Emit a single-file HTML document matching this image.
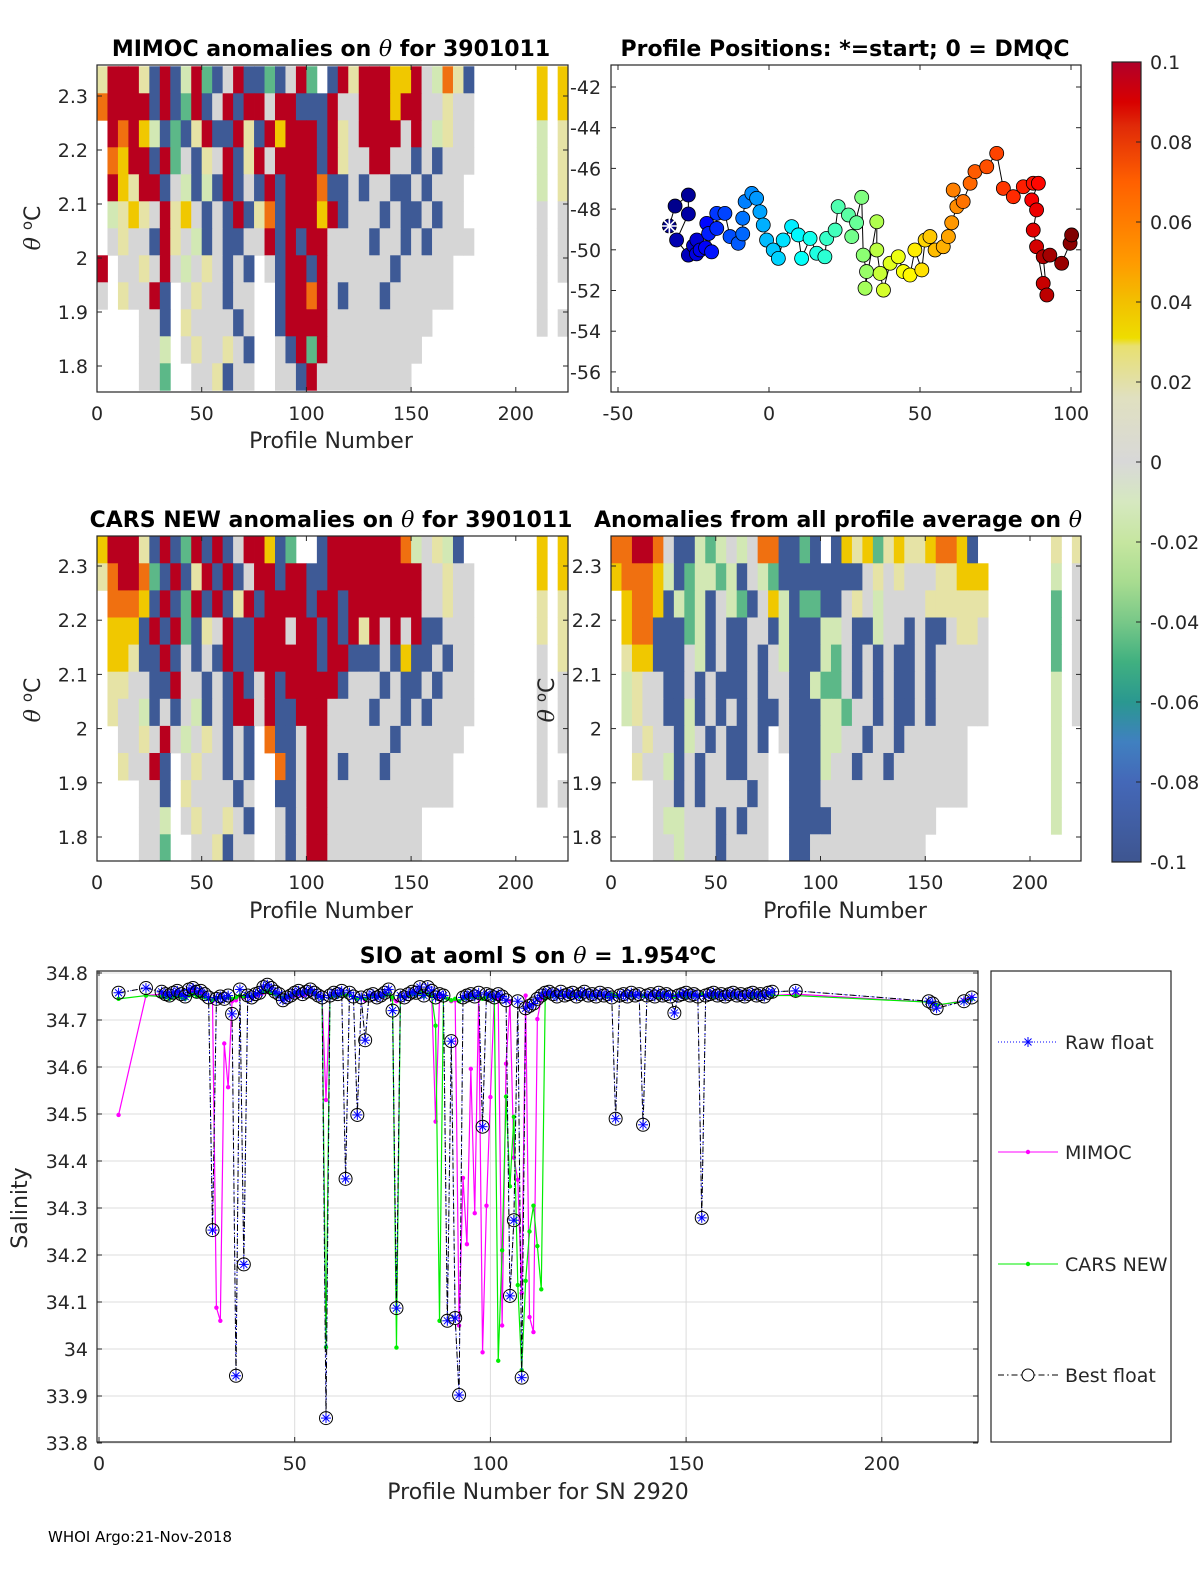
<!DOCTYPE html>
<html><head><meta charset="utf-8"><title>Float 3901011 QC</title>
<style>
html,body{margin:0;padding:0;background:#fff;}
svg{display:block;font-family:"DejaVu Sans","Liberation Sans",sans-serif;}
.tk{font-size:19px;fill:#262626;}
.ttl{font-size:22px;font-weight:bold;fill:#000;}
.lab{font-size:22px;fill:#262626;}
</style></head>
<body>
<svg id="fig" xmlns="http://www.w3.org/2000/svg" width="1200" height="1575" viewBox="0 0 1200 1575">
<rect x="0" y="0" width="1200" height="1575" fill="#fff"/>
<defs>
<linearGradient id="cbg" x1="0" y1="0" x2="0" y2="1">
<stop offset="0" stop-color="#b0002a"/><stop offset="0.05" stop-color="#d80000"/><stop offset="0.08" stop-color="#e02a08"/>
<stop offset="0.15" stop-color="#ff6000"/><stop offset="0.25" stop-color="#ff9a00"/><stop offset="0.3" stop-color="#f2c000"/>
<stop offset="0.345" stop-color="#eedd00"/><stop offset="0.355" stop-color="#e8e070"/><stop offset="0.42" stop-color="#e0e0c0"/>
<stop offset="0.5" stop-color="#d8d8d8"/><stop offset="0.55" stop-color="#d6e8c0"/><stop offset="0.6" stop-color="#c6e6a0"/>
<stop offset="0.65" stop-color="#a8dc90"/><stop offset="0.7" stop-color="#78c888"/><stop offset="0.75" stop-color="#40b080"/>
<stop offset="0.8" stop-color="#2a9890"/><stop offset="0.85" stop-color="#4080c0"/><stop offset="0.9" stop-color="#4468b8"/>
<stop offset="1" stop-color="#3e5590"/>
</linearGradient>
<clipPath id="c1"><rect x="97" y="65" width="471" height="327"/></clipPath>
<clipPath id="c3"><rect x="97" y="536" width="471" height="325"/></clipPath>
<clipPath id="c4"><rect x="611" y="536" width="470" height="325"/></clipPath>
<clipPath id="cb"><rect x="97" y="971" width="881" height="471"/></clipPath>
</defs>
</svg>
<script>
// ---------- heatmap data (each char = 5-profile bin, each row = 0.05 degC from top) ----------
const mimocRows=[
"ERRREBRBLRMBGRBBMBGRM.BRERRRYYRGLOEB......Y.Y",
"ORRRRBRBMRBGRBRRGRRBBBRGGRRRYRRGGEGG......Y.Y",
".RORYLBMBERBBREBRYRRRBREGRRRRGRGLEGG......L.E",
".OYRRBRMGBEGRBERGRRRRBREGGRRGGBGBGGG......L.E",
".RYERRBGLBLBRBGBRBRRROBBGBGGBBGBGGG.......L.E",
".LEYEGREYGBGBRBEOBRRRYRBGGGBGBBGBGG.......G.G",
".GEGGBREGLBGBBGGRBRBRRGGGGBGGBGBGGGG......G.G",
"R.GGEGRGLGEGBGB.GBRRBRGGGGGGBGGGGG........G.G",
"G.EGGRB.GEGGBGG..BRRORGBGGGBGGGGGG........G..",
"....GGB.EGGGGBG..BRRRRGGGGGGGGGG..........G.G",
"....GGL.GEGGEGB..GBRMRGGGGGGGGG..............",
"....GGM..GGEBGG..GGBRGGGGGGGGG..............."];
const carsRows=[
"YRRREBRBMRBRBGRRYBM..BRRRRRRROLGELB.......Y.Y",
"EORROMBRBERBRBGRRBRRBBRRRRRRRRRGGEGG......Y.Y",
".OOOYBRBMRBRBERBRRRRBRRBRRRRRRRGGEGG......E.E",
".YYYBRBRMBEGRBBRRRGRRBRBRERGRGRBBGGG......E.E",
".YYEBBRBGBGBRBBRRRRRRBRRBBBGBYBBGBGG......G.E",
".EEGGBBRGGBGBRBGRBRRRRRBGGGBGBBGBGGG......G.G",
".EGGLBGBGLBGBRRGRBBRRRGGGGBGGBGBGGGG......G.G",
"..GGEGRGLGEGBGB.OBBGRRGGGGGGBGGGGGG.......G.G",
"..EGGRB.GEGGBGB..OBGRRGBGGGBGGGGGG........G..",
"....GGB.EGGGGBG..BBGRRGGGGGGGGGGGG........G.G",
"....GGL.GEGGEGB..GBGRRGGGGGGGGG..............",
"....GGM..GGEBGG..GBGRRGGGGGGGGG.............."];
const avgRows=[
"OORROGBBLMLGLGOOBBMB.BYEYMEYEEYOOYB.......E.E",
"YOOOYLBMLLMLBGLMBBBBBBBBGEGEGGGEEYYY......L.G",
".YOOYBLMLBGLMBGYLBMMBBGEGLGGGGEEEEEE......M.G",
".YOOBBBMLBGBBGGBLBBBLLGBBLGGBGBBGEEG......M.G",
".EYYBBBGLBGBBGBGLBBBLMGBGBGBBGBGGGGG......M.G",
".LEGGBBGBGBBBGBGGBBLMMGBGBGBBGBGGGGG......L.G",
".LEGGBBLBGBGBGBBGBBBLLMGGBGBBGBGGGGG......L.G",
"..GEGGBLGBGBBGB.GBBBLLGGBGGBGGGGGG........L..",
"..EGGLBGBGGBBGG..BBBLGGBGGBGGGGGGG........L..",
"....GGBGBGGGGBG..BBBGGGGGGGGGGGGGG........L..",
"....GLLGGGBGBGG..BBBBGGGGGGGGGG...........L..",
"....GGLGGGBGGGG..BBGGGGGGGGGGG..............."];
const cellColors={R:"#b8001e",O:"#f07010",Y:"#f0c800",E:"#e6e3a6",G:"#d6d6d6",L:"#d2e8b4",M:"#5cb888",B:"#3e5a96"};
const thetaTicks=[2.3,2.2,2.1,2.0,1.9,1.8];
const thetaTickLabels=["2.3","2.2","2.1","2","1.9","1.8"];
const profTicks=[0,50,100,150,200];

// ---------- positions data ----------
const lon=[-33.0,-31.1,-26.7,-26.7,-30.6,-26.7,-25.0,-23.9,-24.0,-22.8,-21.0,-20.6,-19.0,-20.0,-17.3,-17.3,-14.6,-12.9,-10.2,-8.7,-8.7,-7.9,-5.7,-4.1,-3.0,-1.9,-0.8,1.4,3.1,4.7,7.5,9.7,10.8,13.6,15.8,18.5,19.1,21.9,22.9,26.3,29.0,27.4,30.7,31.2,32.3,31.8,35.7,35.7,36.8,37.9,40.1,42.8,44.5,46.7,48.3,50.6,51.7,53.3,55.0,57.7,59.4,60.5,62.2,61.0,64.3,66.6,68.2,72.1,75.4,77.6,80.9,84.2,87.5,89.2,87.0,88.6,87.5,88.6,90.8,92.0,90.8,93.0,96.9,99.7,100.2];
const lat=[-48.83,-47.85,-47.31,-48.24,-49.52,-50.26,-49.8,-49.52,-50.2,-50.01,-49.9,-48.70,-50.1,-49.2,-48.95,-48.21,-48.21,-49.35,-49.68,-49.22,-48.45,-47.63,-47.23,-47.47,-48.13,-48.78,-49.52,-50.01,-50.42,-49.52,-48.86,-49.27,-50.42,-49.44,-50.17,-50.34,-49.44,-49.03,-47.88,-48.29,-48.67,-49.35,-47.42,-50.26,-51.07,-51.89,-48.62,-50.01,-51.16,-51.98,-50.66,-50.34,-51.07,-51.24,-50.01,-50.99,-49.52,-49.35,-50.01,-49.85,-49.35,-48.67,-47.88,-47.06,-47.63,-46.73,-46.16,-45.92,-45.26,-46.98,-47.39,-46.90,-46.73,-46.73,-47.55,-48.04,-49.03,-49.85,-51.65,-52.22,-50.34,-50.26,-50.66,-49.68,-49.27];
const lonTicks=[-50,0,50,100];
const latTicks=[-42,-44,-46,-48,-50,-52,-54,-56];
const cbTicks=[0.1,0.08,0.06,0.04,0.02,0,-0.02,-0.04,-0.06,-0.08,-0.1];
const cbTickLabels=["0.1","0.08","0.06","0.04","0.02","0","-0.02","-0.04","-0.06","-0.08","-0.1"];

// ---------- salinity data ----------
const profStart=16, profEnd=172;
const profHead=[5,12], profTail=[178,212,213,214,221,223];
const bestS=[34.758,34.768,
34.760,34.755,34.752,34.758,34.762,34.755,34.750,34.765,34.768,34.760,
34.762,34.755,34.748,34.253,34.745,34.750,34.745,34.752,34.713,33.943,
34.765,34.180,34.752,34.748,34.755,34.758,34.770,34.775,34.768,34.760,
34.755,34.742,34.748,34.752,34.758,34.762,34.755,34.760,34.765,34.758,
34.752,34.748,33.853,34.752,34.758,34.755,34.762,34.362,34.758,34.750,
34.498,34.748,34.657,34.752,34.755,34.748,34.752,34.758,34.765,34.720,
34.087,34.752,34.748,34.755,34.760,34.758,34.770,34.752,34.770,34.762,
34.748,34.755,34.752,34.060,34.655,34.066,33.902,34.748,34.752,34.755,
34.750,34.758,34.473,34.755,34.752,34.748,34.755,34.750,34.742,34.113,
34.274,34.740,33.939,34.725,34.730,34.735,34.745,34.752,34.758,34.760,
34.755,34.750,34.760,34.752,34.755,34.758,34.750,34.755,34.760,34.752,
34.755,34.750,34.758,34.752,34.755,34.748,34.490,34.752,34.755,34.750,
34.758,34.752,34.755,34.477,34.752,34.755,34.750,34.758,34.752,34.755,
34.750,34.715,34.752,34.755,34.758,34.752,34.755,34.750,34.279,34.752,
34.755,34.758,34.752,34.755,34.750,34.755,34.758,34.752,34.755,34.750,
34.755,34.758,34.752,34.755,34.750,34.758,34.760,
34.762,34.740,34.735,34.725,34.740,34.748];
const mimocS=[34.498,34.752,
34.755,34.752,34.750,34.755,34.758,34.752,34.750,34.758,34.760,34.755,
34.755,34.750,34.748,34.740,34.088,34.060,34.650,34.557,34.740,34.742,
34.750,34.748,34.750,34.748,34.752,34.755,34.758,34.760,34.758,34.755,
34.752,34.745,34.748,34.750,34.752,34.755,34.752,34.755,34.758,34.755,
34.750,34.745,34.530,34.748,34.752,34.750,34.755,34.752,34.755,34.748,
34.745,34.748,34.742,34.750,34.752,34.748,34.750,34.752,34.755,34.745,
34.740,34.750,34.748,34.752,34.755,34.752,34.758,34.750,34.755,34.752,
34.484,34.750,34.748,34.745,34.740,34.742,34.050,34.364,34.223,34.596,
34.289,34.750,33.993,34.305,34.536,34.748,34.745,34.050,34.607,34.740,
34.407,34.360,34.119,34.752,34.068,34.036,34.702,34.745,34.752,34.755,
34.752,34.750,34.755,34.752,34.750,34.755,34.752,34.750,34.755,34.752,
34.752,34.750,34.755,34.752,34.750,34.755,34.752,34.750,34.755,34.752,
34.752,34.750,34.755,34.752,34.750,34.755,34.752,34.750,34.755,34.752,
34.752,34.750,34.755,34.752,34.750,34.755,34.752,34.750,34.755,34.752,
34.752,34.750,34.755,34.752,34.750,34.755,34.752,34.750,34.755,34.752,
34.752,34.750,34.755,34.752,34.750,34.755,34.752,
34.755,34.738,34.735,34.730,34.742,34.748];
const carsS=[34.745,34.752,
34.750,34.748,34.745,34.750,34.752,34.748,34.745,34.752,34.755,34.750,
34.750,34.748,34.745,34.742,34.745,34.748,34.745,34.748,34.745,34.748,
34.752,34.750,34.752,34.750,34.755,34.758,34.760,34.762,34.758,34.755,
34.752,34.748,34.750,34.752,34.755,34.758,34.755,34.758,34.760,34.755,
34.750,34.745,34.004,34.748,34.752,34.750,34.755,34.752,34.755,34.748,
34.745,34.748,34.745,34.750,34.752,34.748,34.750,34.752,34.755,34.748,
34.003,34.750,34.748,34.752,34.755,34.752,34.758,34.750,34.755,34.752,
34.688,34.060,34.748,34.745,34.742,34.745,34.740,34.745,34.748,34.750,
34.748,34.750,34.745,34.748,34.750,34.745,33.975,34.210,34.537,34.346,
34.494,34.136,33.955,34.145,34.250,34.305,34.219,34.127,34.745,34.752,
34.752,34.750,34.755,34.752,34.750,34.755,34.752,34.750,34.755,34.752,
34.752,34.750,34.755,34.752,34.750,34.755,34.752,34.750,34.755,34.752,
34.752,34.750,34.755,34.752,34.750,34.755,34.752,34.750,34.755,34.752,
34.752,34.750,34.755,34.752,34.750,34.755,34.752,34.750,34.755,34.752,
34.752,34.750,34.755,34.752,34.750,34.755,34.752,34.750,34.755,34.752,
34.752,34.750,34.755,34.752,34.750,34.755,34.752,
34.752,34.738,34.735,34.732,34.740,34.745];
const salTicks=[34.8,34.7,34.6,34.5,34.4,34.3,34.2,34.1,34.0,33.9,33.8];
const salTickLabels=["34.8","34.7","34.6","34.5","34.4","34.3","34.2","34.1","34","33.9","33.8"];

// ---------- helpers ----------
const NS="http://www.w3.org/2000/svg";
const svg=document.getElementById("fig");
function mk(tag,attrs,parent){const e=document.createElementNS(NS,tag);for(const k in attrs)e.setAttribute(k,attrs[k]);(parent||svg).appendChild(e);return e;}
function txt(s,attrs,parent){const e=mk("text",attrs,parent);e.textContent=s;return e;}

const xP1=p=>97+p*2.094, yT1=t=>96+(2.3-t)*540;
const xP3=p=>97+p*2.094, yT3=t=>566+(2.3-t)*542;
const xP4=p=>611+p*2.095;
const xLon=l=>769+l*3.02, yLat=l=>87+(-42-l)*20.35;
const xS=p=>99+p*3.914, yS=v=>973+(34.8-v)*470;
const yCb=v=>62+(0.1-v)*4000;

function heat(rows,xf,yf,clip,name){
  const g=mk("g",{"clip-path":"url(#"+clip+")"});
  
  
  rows.forEach((row,r)=>{
    const s=(row+".............................................").slice(0,45);
    for(let c=0;c<45;c++){
      const ch=s[c]; if(ch===".")continue;
      const x0=xf(5*c),x1=xf(5*c+5),y0=yf(2.355-0.05*r),y1=yf(2.305-0.05*r);
      const rc=mk("rect",{x:x0,y:y0,width:x1-x0+0.4,height:y1-y0+0.4,fill:cellColors[ch]},g);
      
      
    }
  });
}
function box(x,y,w,h,name){
  const b=mk("rect",{x:x,y:y,width:w,height:h,fill:"none",stroke:"#262626","stroke-width":1.2});
  
  
}
function thetaAxis(yf,left,right,labelX,name){
  thetaTicks.forEach((t,i)=>{
    const y=yf(t);
    mk("line",{x1:left,y1:y,x2:left+5,y2:y,stroke:"#262626"});
    mk("line",{x1:right,y1:y,x2:right-5,y2:y,stroke:"#262626"});
    if(labelX!==null){const e=txt(thetaTickLabels[i],{x:labelX,y:y+7,"text-anchor":"end","class":"tk"});
    
    }
  });
}
function profAxis(xf,top,bottom,name){
  profTicks.forEach(p=>{
    const x=xf(p);
    mk("line",{x1:x,y1:bottom,x2:x,y2:bottom-5,stroke:"#262626"});
    mk("line",{x1:x,y1:top,x2:x,y2:top+5,stroke:"#262626"});
    const e=txt(String(p),{x:x,y:bottom+28,"text-anchor":"middle","class":"tk"});
    
    
  });
}
function thetaLabel(x,y,name){
  const e=mk("text",{x:0,y:0,transform:"translate("+x+","+y+") rotate(-90)","text-anchor":"middle","class":"lab"});
  e.innerHTML='<tspan font-style="italic" font-family="DejaVu Serif, serif">θ</tspan> <tspan dy="-8" font-size="15">o</tspan><tspan dy="8">C</tspan>';
  
  
}

// ---------- panel 1 ----------
heat(mimocRows,xP1,yT1,"c1","mimoc-heatmap");
box(97,65,471,327,"mimoc-axes");
thetaAxis(yT1,97,568,88,"mimoc-y");
profAxis(xP1,65,392,"mimoc-x");
let t=txt("",{x:331,y:56,"text-anchor":"middle","class":"ttl"});
t.innerHTML='MIMOC anomalies on <tspan font-style="italic" font-weight="normal" font-family="DejaVu Serif, serif">θ</tspan>  for 3901011';


t=txt("Profile Number",{x:331,y:448,"text-anchor":"middle","class":"lab"});


thetaLabel(40,228,"mimoc-y-title");

// ---------- panel 3 ----------
heat(carsRows,xP3,yT3,"c3","cars-heatmap");
box(97,536,471,325,"cars-axes");
thetaAxis(yT3,97,568,88,"cars-y");
profAxis(xP3,536,861,"cars-x");
t=txt("",{x:331,y:527,"text-anchor":"middle","class":"ttl"});
t.innerHTML='CARS NEW anomalies on <tspan font-style="italic" font-weight="normal" font-family="DejaVu Serif, serif">θ</tspan> for 3901011';


t=txt("Profile Number",{x:331,y:918,"text-anchor":"middle","class":"lab"});


thetaLabel(40,700,"cars-y-title");

// ---------- panel 4 ----------
heat(avgRows,xP4,yT3,"c4","average-heatmap");
box(611,536,470,325,"average-axes");
thetaAxis(yT3,611,1081,602,"average-y");
profAxis(xP4,536,861,"average-x");
t=txt("",{x:838,y:527,"text-anchor":"middle","class":"ttl"});
t.innerHTML='Anomalies from all profile average on <tspan font-style="italic" font-weight="normal" font-family="DejaVu Serif, serif">θ</tspan>';


t=txt("Profile Number",{x:845,y:918,"text-anchor":"middle","class":"lab"});


thetaLabel(554,700,"average-y-title");

// ---------- panel 2 (positions) ----------
box(611,65,470,327,"positions-axes");
latTicks.forEach(l=>{
  const y=yLat(l);
  mk("line",{x1:611,y1:y,x2:616,y2:y,stroke:"#262626"});
  mk("line",{x1:1081,y1:y,x2:1076,y2:y,stroke:"#262626"});
  const e=txt(String(l),{x:570,y:y+7,"class":"tk"});
  
  
});
lonTicks.forEach(l=>{
  const x=xLon(l);
  mk("line",{x1:x,y1:392,x2:x,y2:387,stroke:"#262626"});
  mk("line",{x1:x,y1:65,x2:x,y2:70,stroke:"#262626"});
  const e=txt(String(l),{x:x,y:420,"text-anchor":"middle","class":"tk"});
  
  
});
t=txt("Profile Positions: *=start; 0 = DMQC",{x:845,y:56,"text-anchor":"middle","class":"ttl"});


const track=mk("polyline",{points:lon.map((l,i)=>xLon(l)+","+yLat(lat[i])).join(" "),fill:"none",stroke:"#000","stroke-width":1});


function jet(f){
  const r=Math.max(0,Math.min(1,1.5-Math.abs(4*f-3))),g=Math.max(0,Math.min(1,1.5-Math.abs(4*f-2))),b=Math.max(0,Math.min(1,1.5-Math.abs(4*f-1)));
  return "rgb("+Math.round(r*255)+","+Math.round(g*255)+","+Math.round(b*255)+")";
}
lon.forEach((l,i)=>{
  const c=mk("circle",{cx:xLon(l),cy:yLat(lat[i]),r:7,fill:jet(i/(lon.length-1)),stroke:"#000","stroke-width":0.8});
  
  
});
const sx=xLon(lon[0]),sy=yLat(lat[0]);
const star=mk("g",{stroke:"#fff","stroke-width":1.6});


[[0,8],[8,0],[6,6],[6,-6]].forEach(d=>mk("line",{x1:sx-d[0],y1:sy-d[1],x2:sx+d[0],y2:sy+d[1]},star));

// ---------- colorbar ----------
const cbr=mk("rect",{x:1112,y:62,width:29,height:800,fill:"url(#cbg)",stroke:"#262626","stroke-width":1.2});


cbTicks.forEach((v,i)=>{
  const y=yCb(v);
  mk("line",{x1:1136,y1:y,x2:1141,y2:y,stroke:"#262626"});
  const e=txt(cbTickLabels[i],{x:1150,y:y+7,"class":"tk"});
  
  
});

// ---------- bottom salinity plot ----------
const profs=profHead.slice();
for(let p=profStart;p<=profEnd;p++)profs.push(p);
profTail.forEach(p=>profs.push(p));
const grid=mk("g",{stroke:"#dcdcdc","stroke-width":1});


salTicks.forEach((v,i)=>{
  const y=yS(v);
  mk("line",{x1:97,y1:y,x2:978,y2:y},grid);
  mk("line",{x1:97,y1:y,x2:102,y2:y,stroke:"#262626"});
  mk("line",{x1:978,y1:y,x2:973,y2:y,stroke:"#262626"});
  const e=txt(salTickLabels[i],{x:88,y:y+7,"text-anchor":"end","class":"tk"});
  
  
});
profTicks.forEach(p=>{
  const x=xS(p);
  mk("line",{x1:x,y1:971,x2:x,y2:1442},grid);
  mk("line",{x1:x,y1:1442,x2:x,y2:1437,stroke:"#262626"});
  mk("line",{x1:x,y1:971,x2:x,y2:976,stroke:"#262626"});
  const e=txt(String(p),{x:x,y:1470,"text-anchor":"middle","class":"tk"});
  
  
});
const plotG=mk("g",{"clip-path":"url(#cb)"});


function pts(arr){return profs.map((p,i)=>xS(p)+","+yS(arr[i])).join(" ");}
let ln=mk("polyline",{points:pts(mimocS),fill:"none",stroke:"#ff00ff","stroke-width":1.2},plotG);


profs.forEach((p,i)=>{const d=mk("circle",{cx:xS(p),cy:yS(mimocS[i]),r:2.2,fill:"#ff00ff"},plotG);

});
ln=mk("polyline",{points:pts(carsS),fill:"none",stroke:"#00ee00","stroke-width":1.2},plotG);


profs.forEach((p,i)=>{const d=mk("circle",{cx:xS(p),cy:yS(carsS[i]),r:2.2,fill:"#00ee00"},plotG);

});
ln=mk("polyline",{points:pts(bestS),fill:"none",stroke:"#0000ff","stroke-width":1,"stroke-dasharray":"1,2"},plotG);


ln=mk("polyline",{points:pts(bestS),fill:"none",stroke:"#000","stroke-width":1,"stroke-dasharray":"6,3,1.5,3"},plotG);


profs.forEach((p,i)=>{
  const x=xS(p),y=yS(bestS[i]);
  const c=mk("circle",{cx:x,cy:y,r:6.5,fill:"none",stroke:"#000","stroke-width":1},plotG);
  
  
  const a=mk("g",{stroke:"#0000ff","stroke-width":1},plotG);
  
  
  mk("line",{x1:x-5,y1:y,x2:x+5,y2:y},a);
  mk("line",{x1:x,y1:y-5,x2:x,y2:y+5},a);
  mk("line",{x1:x-3.5,y1:y-3.5,x2:x+3.5,y2:y+3.5},a);
  mk("line",{x1:x-3.5,y1:y+3.5,x2:x+3.5,y2:y-3.5},a);
});
box(97,971,881,471,"salinity-axes");
t=txt("",{x:538,y:963,"text-anchor":"middle","class":"ttl"});
t.innerHTML='SIO at aoml S on <tspan font-style="italic" font-weight="normal" font-family="DejaVu Serif, serif">θ</tspan> = 1.954<tspan dy="-8" font-size="15">o</tspan><tspan dy="8">C</tspan>';


t=txt("Profile Number for SN 2920",{x:538,y:1499,"text-anchor":"middle","class":"lab"});


t=txt("Salinity",{x:0,y:0,transform:"translate(27,1208) rotate(-90)","text-anchor":"middle","class":"lab"});



// legend
const lg=mk("rect",{x:991,y:971,width:180,height:471,fill:"#fff",stroke:"#262626","stroke-width":1.2});


const legY=[1042,1152,1264,1375];
const legNames=["Raw float","MIMOC","CARS NEW","Best float"];
legNames.forEach((n,i)=>{
  const y=legY[i];
  const g=mk("g",{});
  
  
  if(i===0){mk("line",{x1:998,y1:y,x2:1058,y2:y,stroke:"#0000ff","stroke-dasharray":"1,2"},g);
    [[5,0],[0,5],[3.5,3.5],[3.5,-3.5]].forEach(d=>mk("line",{x1:1028-d[0],y1:y-d[1],x2:1028+d[0],y2:y+d[1],stroke:"#0000ff"},g));}
  if(i===1){mk("line",{x1:998,y1:y,x2:1058,y2:y,stroke:"#ff00ff"},g);mk("circle",{cx:1028,cy:y,r:2.2,fill:"#ff00ff"},g);}
  if(i===2){mk("line",{x1:998,y1:y,x2:1058,y2:y,stroke:"#00ee00"},g);mk("circle",{cx:1028,cy:y,r:2.2,fill:"#00ee00"},g);}
  if(i===3){mk("line",{x1:998,y1:y,x2:1058,y2:y,stroke:"#000","stroke-dasharray":"6,3,1.5,3"},g);mk("circle",{cx:1028,cy:y,r:6,fill:"#fff",stroke:"#000"},g);}
  const e=txt(n,{x:1065,y:y+7,"class":"tk"},g);
  
  
});
t=txt("WHOI Argo:21-Nov-2018",{x:48,y:1542,"font-size":"15",fill:"#000"});


</script>
</body></html>
